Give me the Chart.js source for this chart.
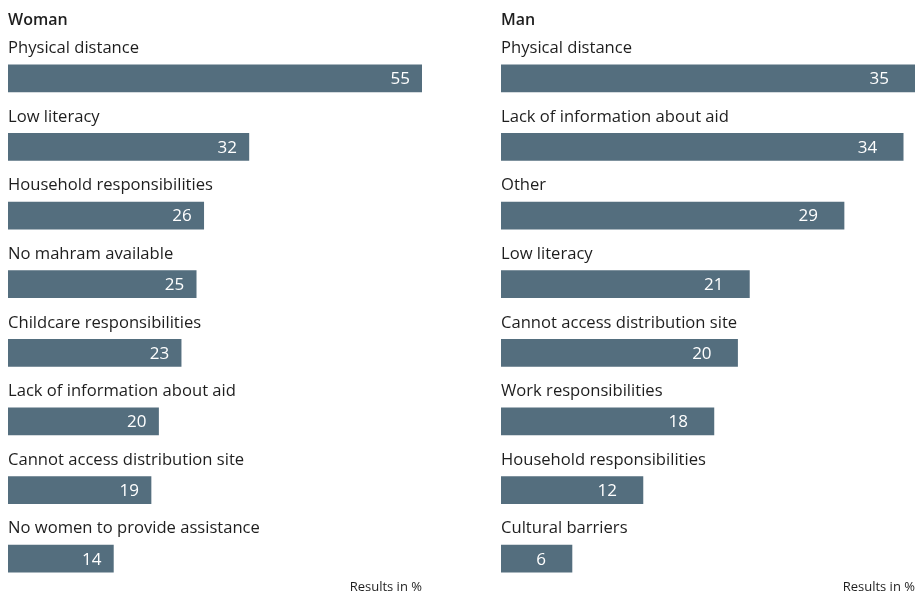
<!DOCTYPE html>
<html>
<head>
<meta charset="utf-8">
<script src="https://cdn.jsdelivr.net/npm/chart.js@4"></script>
<style>
  html, body { margin: 0; padding: 0; background: #fff; }
  #wrap { position: relative; width: 920px; height: 594px; overflow: hidden; }
  #womanChart { position: absolute; left: 0; top: 0; }
  #manChart { position: absolute; left: 493px; top: 0; }
</style>
</head>
<body>
<div id="wrap">
  <canvas id="womanChart" width="440" height="594"></canvas>
  <canvas id="manChart" width="427" height="594"></canvas>
</div>
<script>
var womanReasons = ['Physical distance', 'Low literacy', 'Household responsibilities', 'No mahram available',
    'Childcare responsibilities', 'Lack of information about aid', 'Cannot access distribution site',
    'No women to provide assistance'];
var womanValues = [55, 32, 26, 25, 23, 20, 19, 14];

var manReasons = ['Physical distance', 'Lack of information about aid', 'Other', 'Low literacy',
    'Cannot access distribution site', 'Work responsibilities', 'Household responsibilities', 'Cultural barriers'];
var manValues = [35, 34, 29, 21, 20, 18, 12, 6];

var barColor = '#546e7e';
var fontFamily = '"Open Sans", Lato, sans-serif';

// draws category labels above the bars, values inside, plus the title and footnote
var barText = {
    id: 'barText',
    afterDatasetsDraw: function (chart, args, opts) {
        var ctx = chart.ctx;
        var area = chart.chartArea;
        var meta = chart.getDatasetMeta(0);
        var labels = chart.data.labels;
        var values = chart.data.datasets[0].data;
        ctx.save();
        ctx.textBaseline = 'middle';
        meta.data.forEach(function (bar, i) {
            ctx.fillStyle = '#1e1e1e';
            ctx.textAlign = 'left';
            ctx.font = '16.6px ' + fontFamily;
            ctx.fillText(labels[i], area.left, bar.y - 30);

            ctx.fillStyle = '#ffffff';
            ctx.textAlign = 'right';
            ctx.font = '17px ' + fontFamily;
            ctx.fillText(String(values[i]), bar.x - opts.valueInset, bar.y + 1);
        });
        ctx.fillStyle = '#1e1e1e';
        ctx.textAlign = 'left';
        ctx.font = '600 16px ' + fontFamily;
        ctx.fillText(opts.title, area.left, 20);
        ctx.textAlign = 'right';
        ctx.font = '13px ' + fontFamily;
        ctx.fillText('Results in %', area.right, 587);
        ctx.restore();
    }
};

function makeChart(id, reasons, values, maxValue, title, padRight, valueInset) {
    return new Chart(document.getElementById(id).getContext('2d'), {
        type: 'bar',
        data: {
            labels: reasons,
            datasets: [{
                data: values,
                backgroundColor: barColor,
                borderWidth: 0,
                barThickness: 27
            }]
        },
        options: {
            indexAxis: 'y',
            responsive: false,
            animation: false,
            layout: {
                padding: { left: 8, right: padRight, top: 44, bottom: 1 }
            },
            plugins: {
                legend: { display: false },
                tooltip: { enabled: false },
                barText: { title: title, valueInset: valueInset }
            },
            scales: {
                x: { display: false, min: 0, max: maxValue },
                y: { display: false }
            }
        },
        plugins: [barText]
    });
}

makeChart('womanChart', womanReasons, womanValues, 55, 'Woman', 18, 12);
makeChart('manChart', manReasons, manValues, 35, 'Man', 5, 26);
</script>
</body>
</html>
